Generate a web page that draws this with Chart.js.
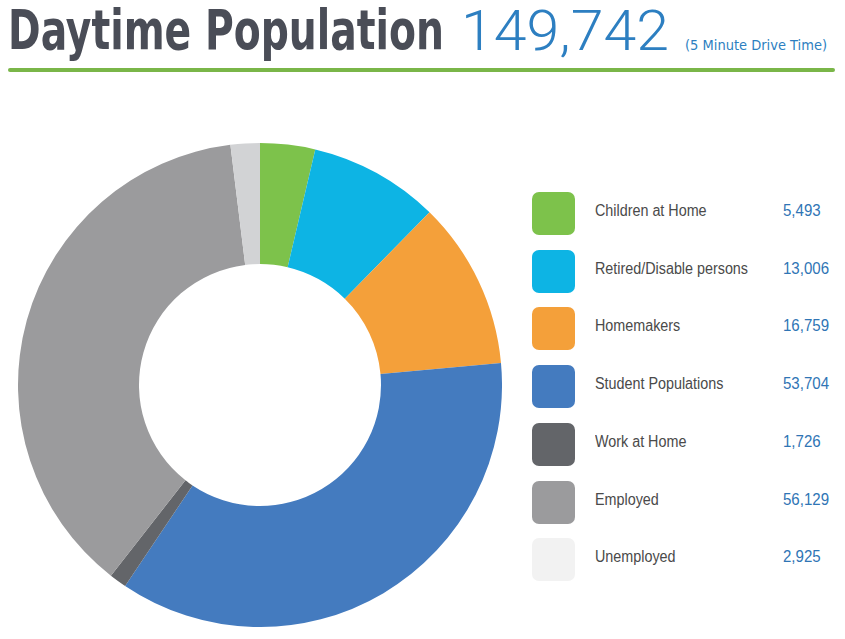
<!DOCTYPE html>
<html><head><meta charset="utf-8">
<script src="https://cdn.jsdelivr.net/npm/chart.js@4/dist/chart.umd.min.js"></script>
<style>
html,body{margin:0;padding:0;background:#fff;width:845px;height:639px;overflow:hidden;}
.t{position:absolute;white-space:nowrap;transform-origin:0 0;line-height:1;}
#title{left:8px;top:3px;font-family:"Liberation Sans Narrow","DejaVu Sans Condensed",sans-serif;font-weight:bold;font-size:55px;color:#4a4d57;}
#total{left:461px;top:3px;font-family:Roboto,"Liberation Sans",sans-serif;font-weight:300;font-size:56px;color:#2d7fc1;}
#sub{left:685px;top:38px;font-family:"Liberation Sans Narrow","DejaVu Sans Condensed",sans-serif;font-size:14px;color:#2d7fc1;}
#rule{position:absolute;left:8px;top:68px;width:827px;height:4px;background:#7ab648;border-radius:2px;}
#chartBox{position:absolute;left:18px;top:143px;width:484px;height:484px;}
.sw{position:absolute;left:532px;width:43px;height:43px;border-radius:7px;}
.lb,.vl{position:absolute;font-family:"Liberation Sans",sans-serif;font-size:16px;white-space:nowrap;transform-origin:0 0;line-height:1;}
.lb{left:595px;color:#4a4a4a;}
.vl{left:783px;color:#2f75b5;}
</style></head>
<body>
<div id="title" class="t">Daytime Population</div>
<div id="total" class="t">149,742</div>
<div id="sub" class="t">(5 Minute Drive Time)</div>
<div id="rule"></div>
<div id="chartBox"><canvas id="c" width="484" height="484"></canvas></div>
<div id="legend"></div>
<script>
const categories = ["Children at Home","Retired/Disable persons","Homemakers","Student Populations","Work at Home","Employed","Unemployed"];
const values = [5493,13006,16759,53704,1726,56129,2925];
const valueLabels = ["5,493","13,006","16,759","53,704","1,726","56,129","2,925"];
const sliceColors = ["#7dc24b","#0db4e4","#f4a03a","#447bbf","#636569","#9b9b9d","#d2d3d5"];
const legendColors = ["#7dc24b","#0db4e4","#f4a03a","#447bbf","#636569","#9b9b9d","#f2f2f2"];

function fit(id, w){const e=document.getElementById(id);const r=e.getBoundingClientRect();e.style.transform='scaleX('+(w/r.width)+')';}
fit('title',436); fit('total',208); fit('sub',142);

const leg=document.getElementById('legend');
const rowTop=192, rowStep=57.7;
const labs=[], vals=[];
categories.forEach((c,i)=>{
  const y=rowTop+i*rowStep;
  const s=document.createElement('div');s.className='sw';s.style.top=y+'px';s.style.background=legendColors[i];leg.appendChild(s);
  const l=document.createElement('div');l.className='lb';l.style.top=(y+11)+'px';l.textContent=c;leg.appendChild(l);labs.push(l);
  const v=document.createElement('div');v.className='vl';v.style.top=(y+11)+'px';v.textContent=valueLabels[i];leg.appendChild(v);vals.push(v);
});
const lr=153/labs[1].getBoundingClientRect().width;
labs.forEach(l=>l.style.transform='scaleX('+lr+')');
const vr=46/vals[1].getBoundingClientRect().width;
vals.forEach(v=>v.style.transform='scaleX('+vr+')');

new Chart(document.getElementById('c'),{
  type:'doughnut',
  data:{labels:categories,datasets:[{data:values,backgroundColor:sliceColors,borderWidth:0}]},
  options:{responsive:false,animation:false,cutout:'50%',layout:{padding:0},
    plugins:{legend:{display:false},tooltip:{enabled:false}}}
});
</script>
</body></html>
